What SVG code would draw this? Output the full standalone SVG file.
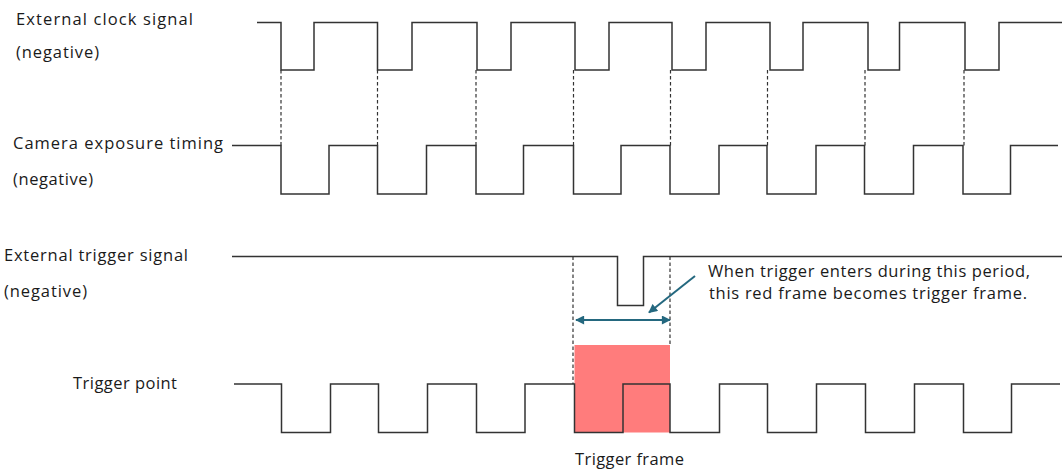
<svg xmlns="http://www.w3.org/2000/svg" width="1062" height="472" viewBox="0 0 1062 472">
  <style>
    .wave { fill: none; stroke: #333333; stroke-width: 1.5; }
    .dash { fill: none; stroke: #333333; stroke-width: 1.2; stroke-dasharray: 3.5 2.5; }
    .arrow { fill: none; stroke: #24687F; stroke-width: 2; }
    .lbl { font-family: "Open Sans", "Liberation Sans", sans-serif; font-size: 16.5px; fill: #1a1a1a; }
  </style>
  <defs>
    <marker id="ah" viewBox="0 0 10 10" refX="9" refY="5" markerWidth="10" markerHeight="9" markerUnits="userSpaceOnUse" orient="auto-start-reverse">
      <path d="M0,0 L10,5 L0,10 Z" fill="#24687F"/>
    </marker>
  </defs>
  <rect width="1062" height="472" fill="#ffffff"/>

  <g id="clock-signal">
    <text class="lbl" x="16" y="25" textLength="177" lengthAdjust="spacing">External clock signal</text>
    <text class="lbl" x="16" y="58" textLength="83" lengthAdjust="spacing">(negative)</text>
    <path class="wave" d="M257,22.5 H281 V70 H314 V22.5 H377.5 V70 H412 V22.5 H477 V70 H511 V22.5 H575 V70 H609 V22.5 H672 V70 H706 V22.5 H770 V70 H803 V22.5 H868 V70 H899.5 V22.5 H965 V70 H999 V22.5 H1062"/>
  </g>

  <g id="camera-exposure">
    <text class="lbl" x="13" y="148.5" textLength="210" lengthAdjust="spacing">Camera exposure timing</text>
    <text class="lbl" x="13" y="185" textLength="80" lengthAdjust="spacing">(negative)</text>
    <path class="wave" d="M232,145.5 H281 V194 H329 V145.5 H377.5 V194 H426.5 V145.5 H476 V194 H523.5 V145.5 H573.5 V194 H621 V145.5 H670 V194 H719 V145.5 H767 V194 H816 V145.5 H864.5 V194 H913.5 V145.5 H963 V194 H1010.5 V145.5 H1058"/>
  </g>

  <g id="trigger-signal">
    <text class="lbl" x="4" y="261" textLength="184" lengthAdjust="spacing">External trigger signal</text>
    <text class="lbl" x="4" y="297" textLength="83" lengthAdjust="spacing">(negative)</text>
    <path class="wave" d="M232,256.5 H617.5 V305.5 H643.5 V256.5 H1062"/>
  </g>

  <g id="trigger-frame">
    <rect x="574.5" y="345" width="95.5" height="87.5" fill="#FF7C7C"/>
    <text class="lbl" x="575" y="465" textLength="109" lengthAdjust="spacing">Trigger frame</text>
  </g>

  <g id="trigger-point">
    <text class="lbl" x="73" y="389" textLength="104" lengthAdjust="spacing">Trigger point</text>
    <path class="wave" d="M234,384 H281.5 V432.5 H330.5 V384 H378.5 V432.5 H427.5 V384 H476.5 V432.5 H525 V384 H574.5 V432.5 H623 V384 H670 V432.5 H719.5 V384 H767.5 V432.5 H816.5 V384 H865.5 V432.5 H914.5 V384 H963.5 V432.5 H1011.5 V384 H1060"/>
  </g>

  <g id="annotation">
    <text class="lbl" x="708" y="277" textLength="322" lengthAdjust="spacing">When trigger enters during this period,</text>
    <text class="lbl" x="709" y="299" textLength="318" lengthAdjust="spacing">this red frame becomes trigger frame.</text>
  </g>

  <g id="connectors">
    <line class="dash" x1="281" y1="70" x2="281" y2="145.5"/>
    <line class="dash" x1="377.5" y1="70" x2="377.5" y2="145.5"/>
    <line class="dash" x1="476" y1="70" x2="476" y2="145.5"/>
    <line class="dash" x1="573.5" y1="70" x2="573.5" y2="145.5"/>
    <line class="dash" x1="670.5" y1="70" x2="670.5" y2="145.5"/>
    <line class="dash" x1="767.5" y1="70" x2="767.5" y2="145.5"/>
    <line class="dash" x1="865" y1="70" x2="865" y2="145.5"/>
    <line class="dash" x1="964" y1="70" x2="964" y2="145.5"/>
    <line class="dash" x1="573" y1="256.5" x2="573" y2="384"/>
    <line class="dash" x1="670" y1="256.5" x2="670" y2="345"/>
    <line class="arrow" x1="576" y1="320" x2="670" y2="320" marker-start="url(#ah)" marker-end="url(#ah)"/>
    <line class="arrow" x1="695" y1="276" x2="649" y2="312.5" marker-end="url(#ah)"/>
  </g>
</svg>
